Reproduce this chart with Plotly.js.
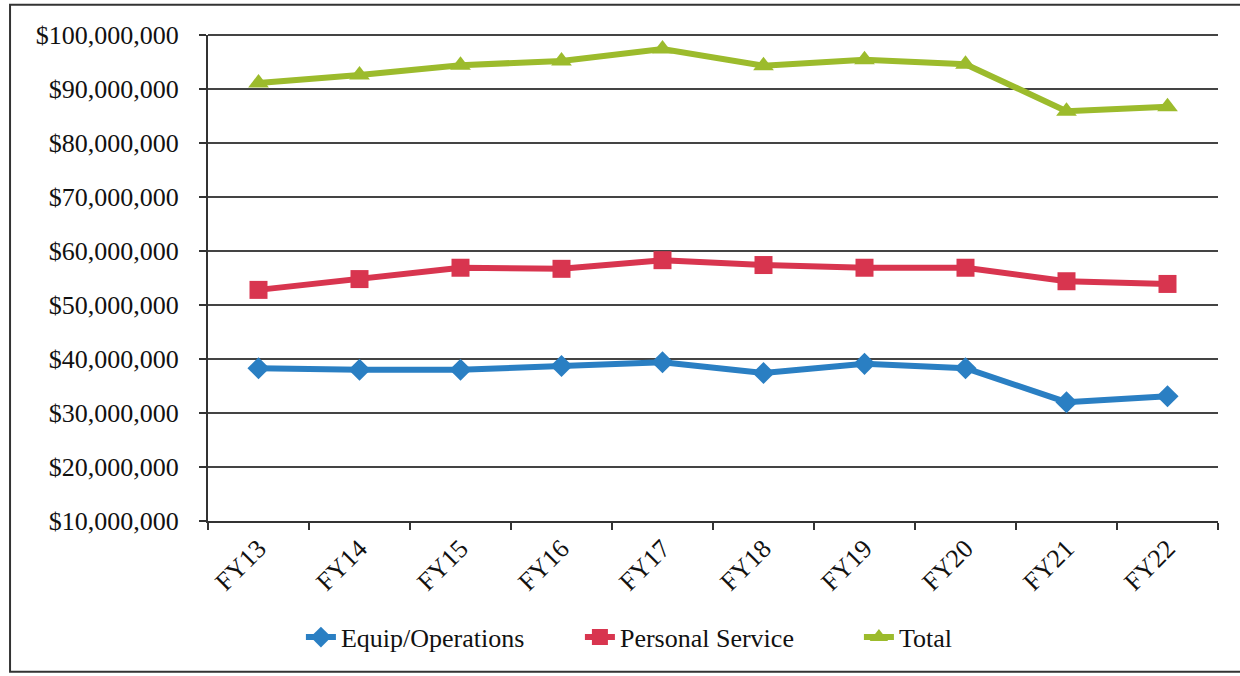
<!DOCTYPE html>
<html>
<head>
<meta charset="utf-8">
<script src="https://cdn.plot.ly/plotly-3.0.1.min.js"></script>
<style>html,body{margin:0;padding:0;background:#fff;}#chart{width:1240px;height:676px;}</style>
</head>
<body>
<div id="chart"></div>
<script>
const categories = ["FY13","FY14","FY15","FY16","FY17","FY18","FY19","FY20","FY21","FY22"];
const equipOperations = [38300000,38000000,38000000,38700000,39400000,37400000,39100000,38300000,32000000,33100000];
const personalService = [52800000,54800000,56900000,56700000,58300000,57400000,56900000,56900000,54400000,53900000];
const total = [91100000,92600000,94400000,95200000,97400000,94300000,95400000,94600000,85900000,86700000];
const seriesNames = ["Equip/Operations","Personal Service","Total"];

const font = "'Liberation Serif', 'Times New Roman', serif";
const traces = [
  {x: categories, y: equipOperations, name: seriesNames[0], type: "scatter", mode: "lines+markers",
   line: {color: "#2a7fc3", width: 6}, marker: {symbol: "diamond", size: 17, color: "#2a7fc3"}},
  {x: categories, y: personalService, name: seriesNames[1], type: "scatter", mode: "lines+markers",
   line: {color: "#d8354f", width: 6}, marker: {symbol: "square", size: 18, color: "#d8354f"}},
  {x: categories, y: total, name: seriesNames[2], type: "scatter", mode: "lines+markers",
   line: {color: "#9cbb2c", width: 6}, marker: {symbol: "triangle-up", size: 18, color: "#9cbb2c"}}
];

const layout = {
  width: 1240, height: 676,
  margin: {l: 208, r: 22, t: 35, b: 155},
  paper_bgcolor: "#fff", plot_bgcolor: "#fff",
  font: {family: font, size: 26, color: "#111"},
  showlegend: true,
  legend: {orientation: "h", x: 0.092, xanchor: "left", y: -0.239, yanchor: "middle",
    font: {family: font, size: 26, color: "#111"}, tracegroupgap: 0, entrywidth: 234},
  xaxis: {type: "category", tickangle: -45, tickson: "boundaries", ticks: "outside", ticklen: 7,
    tickwidth: 2, tickcolor: "#333", showline: true, linecolor: "#333", linewidth: 2,
    showgrid: false, tickfont: {family: font, size: 26, color: "#111"}, range: [-0.5, 9.5]},
  yaxis: {range: [10000000, 100000000], dtick: 10000000, tick0: 0, tickformat: "$,.0f",
    ticks: "outside", ticklen: 7, tickwidth: 2, tickcolor: "#333", ticklabelstandoff: 15,
    showline: true, linecolor: "#333", linewidth: 2,
    showgrid: true, gridcolor: "#444", gridwidth: 2, zeroline: false,
    tickfont: {family: font, size: 26, color: "#111"}},
  shapes: [
    {type: "rect", xref: "paper", yref: "paper", x0: -0.196, x1: 1.05, y0: -0.31, y1: 1.062,
     line: {color: "#333", width: 2}, fillcolor: "rgba(0,0,0,0)", layer: "below"},
    {type: "line", xref: "paper", yref: "paper", x0: 0, x1: 1, y0: 1, y1: 1, line: {color: "#444", width: 2}}
  ]
};
Plotly.newPlot("chart", traces, layout, {displayModeBar: false, staticPlot: true});
</script>
</body>
</html>
